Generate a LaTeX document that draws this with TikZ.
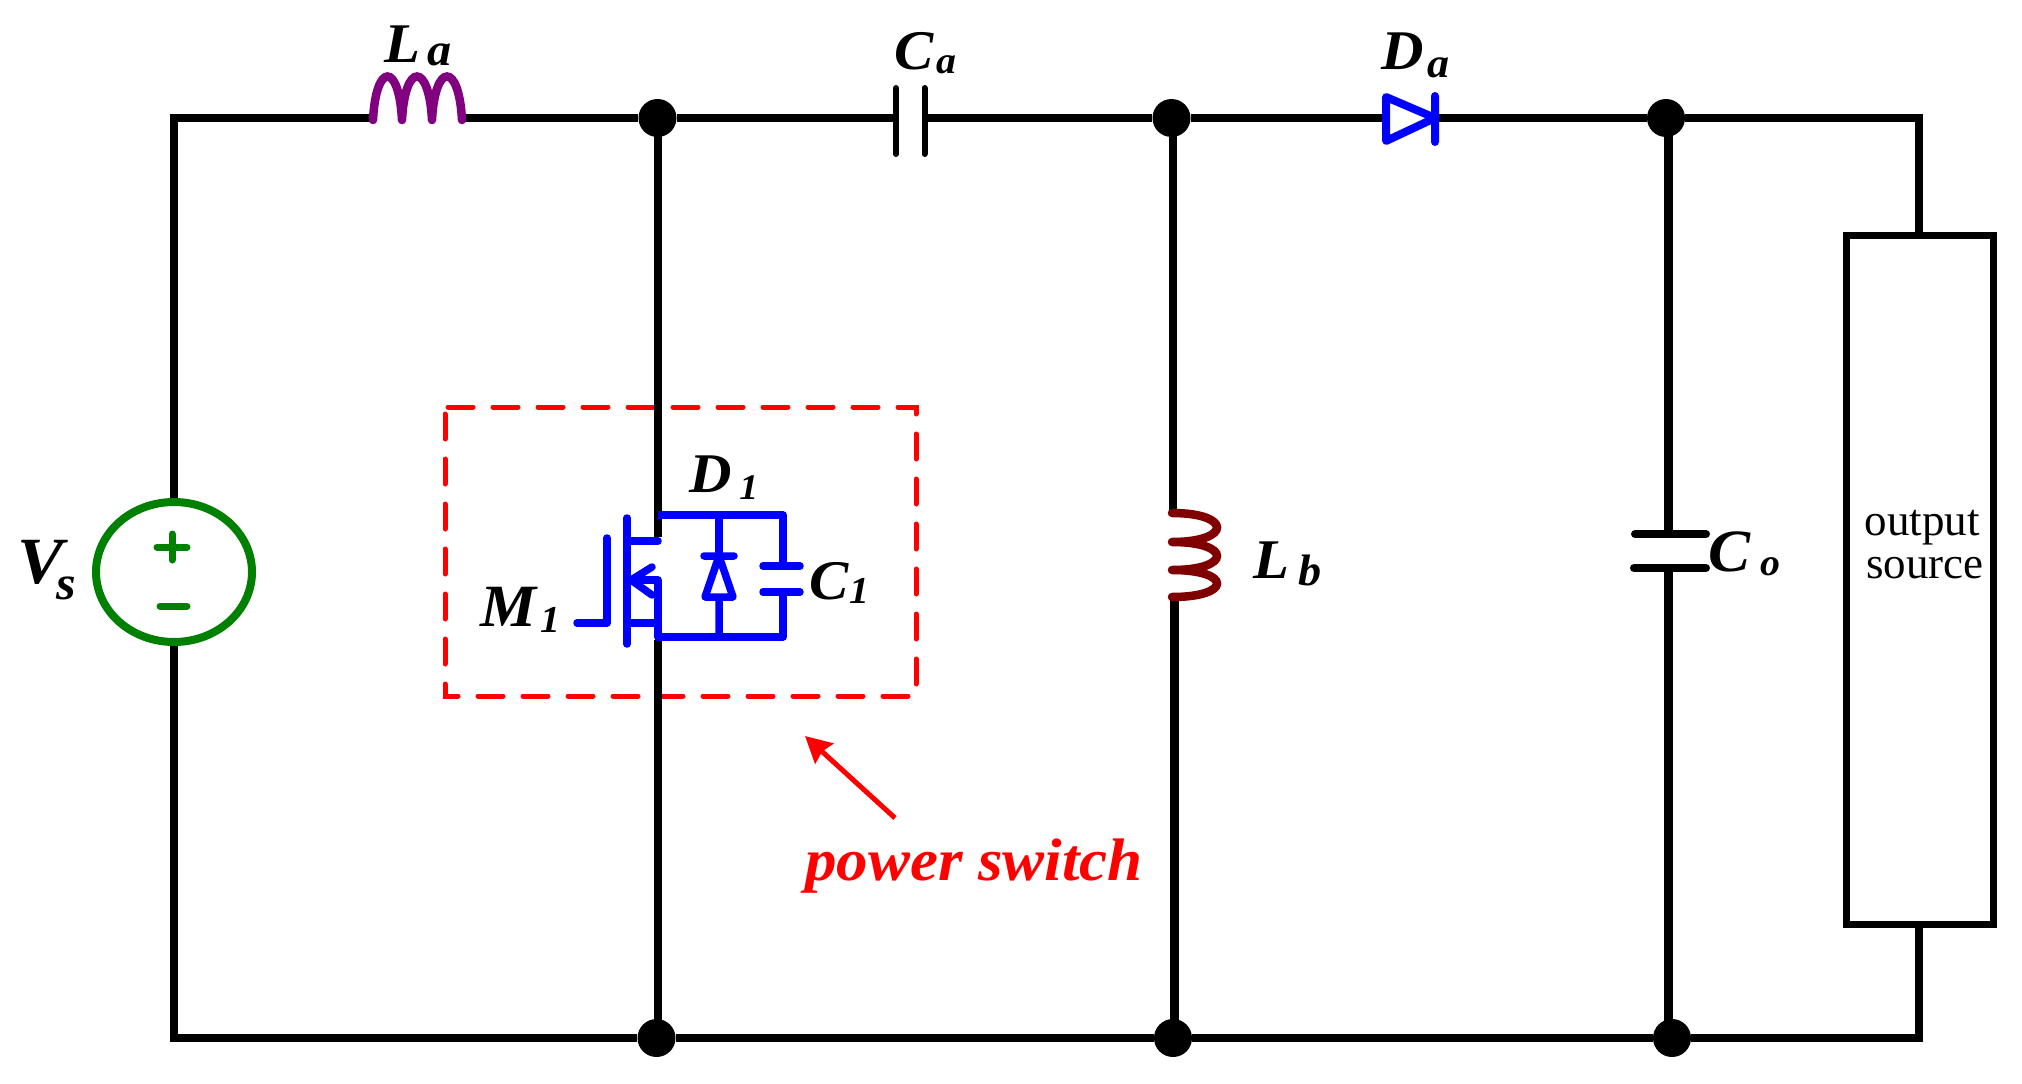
\documentclass[tikz,border=0pt]{standalone}
\usepackage{fontspec}
\setmainfont{Liberation Serif}
\usetikzlibrary{shapes.geometric,arrows.meta}
\definecolor{cgreen}{RGB}{0,128,0}
\definecolor{cpurple}{RGB}{128,0,128}
\definecolor{cmaroon}{RGB}{128,0,0}
\definecolor{cblue}{RGB}{0,0,255}
\definecolor{cred}{RGB}{255,0,0}
\newcommand{\labface}{\bfseries\itshape\addfontfeature{FakeStretch=1.05}}
% main size, main letter, gap, drop, sub size, sub letter
\newcommand{\sublab}[6]{{\fontsize{#1}{#1}\selectfont\labface #2\hspace{#3}\raisebox{-#4}{\fontsize{#5}{#5}\selectfont\labface #6}}}
\tikzset{
  wire/.style={draw=black,line width=8.5pt},
  dot/.style={circle,fill=black,minimum size=38pt,inner sep=0pt},
  bluewire/.style={draw=cblue,line width=7.5pt,line cap=round,line join=round},
  lab/.style={inner sep=0pt,outer sep=0pt,anchor=base west},
  plain/.style={inner sep=0pt,outer sep=0pt,anchor=base,font=\fontsize{45}{45}\selectfont},
}
\begin{document}
\begin{tikzpicture}[x=1pt,y=-1pt]
\useasboundingbox (0,0) rectangle (2022,1084);
% power switch frame
\draw[cred,line width=5pt,line cap=round,dash pattern=on 25pt off 20pt,dash phase=-3pt]
  (445,407) -- (916,407) -- (916,696) -- (445,696) -- cycle;
% junctions and terminals
\node[dot] (t1) at (657.5,118) {};
\node[dot] (t2) at (1171.5,118) {};
\node[dot] (t3) at (1666,118) {};
\node[dot] (b1) at (656.5,1038) {};
\node[dot] (b2) at (1173,1038) {};
\node[dot] (b3) at (1672,1038) {};
\coordinate (tl) at (174,118);
\coordinate (bl) at (174,1038);
\coordinate (tr) at (1919,118);
\coordinate (br) at (1919,1038);
\coordinate (Lal) at (373,118);
\coordinate (Lar) at (462,118);
\coordinate (Cal) at (896,118);
\coordinate (Car) at (924,118);
\coordinate (Dal) at (1386,118);
\coordinate (Dar) at (1435,118);
\coordinate (Mt) at (658,537);
\coordinate (Mb) at (658,640);
\coordinate (Lbt) at (1173,513);
\coordinate (Lbb) at (1174.5,597);
\coordinate (Cot) at (1668.5,534);
\coordinate (Cob) at (1668.5,568);
% source
\node[ellipse,draw=cgreen,line width=8pt,minimum width=156pt,minimum height=140pt,inner sep=0pt] (vs) at (174,572) {};
\draw[cgreen,line width=7pt,line cap=round] (157,547) -- (187,547) (172,534) -- (172,560) (160,606) -- (187,606);
% output box
\node[draw=black,line width=7pt,minimum width=147pt,minimum height=689pt,inner sep=0pt] (out) at (1919.5,579.5) {};
% wires
\draw[wire] (vs.north) -- (tl) -- (Lal);
\draw[wire] (Lar) -- (t1) -- (Cal);
\draw[wire] (Car) -- (t2) -- (Dal);
\draw[wire] (Dar) -- (t3) -- (tr) -- (out.north -| tr);
\draw[wire] (vs.south) -- (bl) -- (b1) -- (b2) -- (b3) -- (br) -- (out.south -| br);
\draw[wire] (Mt |- t1) -- (Mt);
\draw[wire] (Mb) -- (Mb |- b1);
\draw[wire] (Lbt |- t2) -- (Lbt);
\draw[wire] (Lbb) -- (Lbb |- b2);
\draw[wire] (Cot |- t3) -- (Cot);
\draw[wire] (Cob) -- (Cob |- b3);
% La
\draw[cpurple,line width=8.5pt,line cap=round]
  (373,120) .. controls (376,62) and (399,62) .. (402,120)
  (402,120) .. controls (405,62) and (429,62) .. (432,120)
  (432,120) .. controls (435,62) and (459,62) .. (462,120);
% Ca
\draw[black,line width=6pt,line cap=round] (896,88) -- (896,154) (924.5,88) -- (924.5,154);
% Da
\draw[bluewire,line width=8pt] (1386,97) -- (1435,118) -- (1386,141) -- cycle (1435,96) -- (1435,142);
% Lb
\draw[cmaroon,line width=8.5pt,line cap=round]
  (1172,513) .. controls (1232,513) and (1232,542) .. (1172,542)
  (1172,542) .. controls (1232,542) and (1232,570) .. (1172,570)
  (1172,570) .. controls (1232,570) and (1232,597) .. (1172,597);
% Co
\draw[black,line width=8pt,line cap=round] (1635,534) -- (1706,534) (1634,568) -- (1706,568);
% MOSFET with diode and capacitor
\draw[bluewire] (577,623) -- (607,623) -- (607,538);
\draw[bluewire] (627,518) -- (627,644);
\draw[bluewire] (627,541) -- (658,541);
\draw[bluewire] (627,623) -- (658,623);
\draw[bluewire] (627,580) -- (658,580) -- (658,637) -- (783,637) -- (783,592);
\draw[bluewire] (652,567) -- (631,580) -- (652,595);
\draw[bluewire,line cap=butt] (658,515) -- (783,515) -- (783,566);
\draw[bluewire] (763,566) -- (800,566) (763,592) -- (800,592);
\draw[bluewire] (719,515) -- (719,556);
\draw[bluewire] (704,556) -- (734,556) (719,556) -- (705,597) -- (733,597) -- cycle (719,597) -- (719,637);
% labels
\node[lab] (lVs) at (17,583) {\sublab{66pt}{V}{-7pt}{16pt}{48pt}{s}};
\node[lab] (lLa) at (384,62) {\sublab{56pt}{L}{8pt}{3pt}{46pt}{a}};
\node[lab] (lCa) at (894,69) {\sublab{56pt}{C}{3pt}{4pt}{38pt}{a}};
\node[lab] (lDa) at (1381,69) {\sublab{56pt}{D}{4pt}{8pt}{42pt}{a}};
\node[lab] (lD1) at (689,492) {\sublab{56pt}{D}{8pt}{7pt}{36pt}{1}};
\node[lab] (lM1) at (480,626) {\sublab{60pt}{M}{4pt}{6pt}{38pt}{1}};
\node[lab] (lC1) at (809,599) {\sublab{56pt}{C}{1pt}{4pt}{38pt}{1}};
\node[lab] (lLb) at (1253,578) {\sublab{56pt}{L}{10pt}{7pt}{44pt}{b}};
\node[lab] (lCo) at (1708,571) {\sublab{60pt}{C}{10pt}{4pt}{38pt}{o}};
\node[plain] (o1) at (1922,535) {output};
\node[plain] (o2) at (1925,578) {source};
\node[lab,text=cred] (ps) at (805,880) {\fontsize{60pt}{60pt}\selectfont\labface power switch};
% arrow
\coordinate (atail) at (895,818);
\coordinate (atip) at (805,736);
\draw[cred,line width=5pt,-{Stealth[length=26pt,width=27pt,inset=3pt]}] (atail) -- (atip);
\end{tikzpicture}
\end{document}
